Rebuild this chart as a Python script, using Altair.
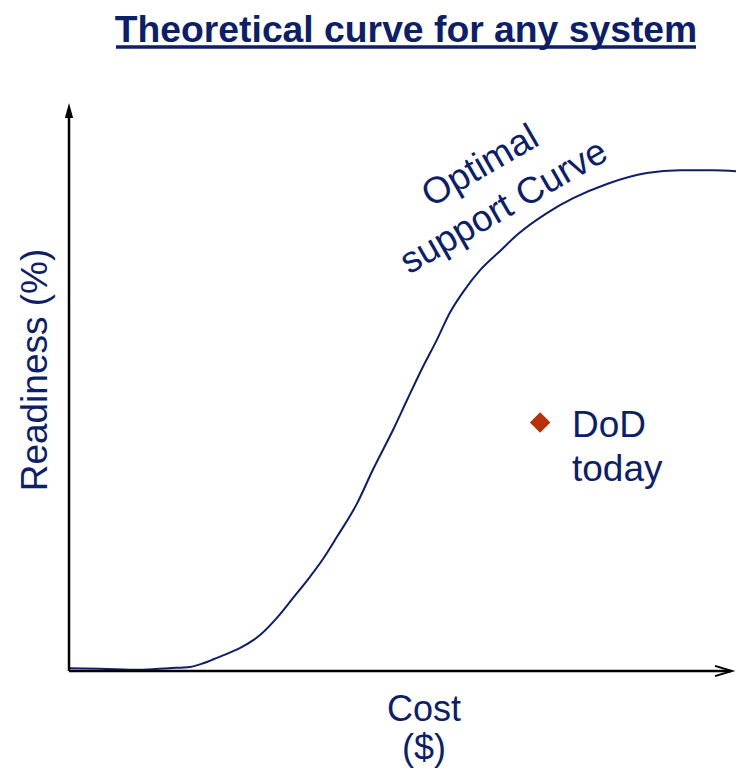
import altair as alt
import pandas as pd

# Optimal support curve (cost %, readiness %)
cost = [0.0, 4.6, 10.5, 14.8, 17.9, 20.0, 21.5, 23.4, 25.3, 27.3, 28.3, 30.8,
        33.2, 35.7, 37.5, 39.7, 42.7, 45.0, 48.0, 50.1, 52.4, 54.5, 56.4, 58.4,
        60.9, 63.9, 66.4, 70.8, 74.7, 79.7, 85.6, 90.5, 95.4, 100.0]
readiness = [0.5, 0.4, 0.2, 0.5, 0.7, 1.4, 2.1, 3.0, 4.0, 5.4, 6.3, 9.3,
             12.8, 16.5, 19.4, 23.5, 29.4, 35.2, 42.2, 47.5, 53.2, 58.0, 62.7,
             66.4, 70.2, 73.6, 76.4, 80.2, 82.8, 85.3, 87.2, 87.7, 87.7, 87.4]

# DoD today point
dod_cost = [69.8]
dod_readiness = [43.5]

title_text = "Theoretical curve for any system"
curve_label = ["Optimal", "support Curve"]
dod_label = ["DoD", "today"]
x_title = ["Cost", "($)"]
y_title = "Readiness (%)"

NAVY = "#0E1F68"
RED = "#B5300B"
FONT = "Liberation Sans"

PX_PER_UNIT = 6.75
W, H = 667, 571

curve_df = pd.DataFrame({"cost": cost, "readiness": readiness})
dod_df = pd.DataFrame({"cost": dod_cost, "readiness": dod_readiness})
one = pd.DataFrame({"k": [0]})

xs = alt.Scale(domain=[0, W / PX_PER_UNIT], nice=False, zero=False)
ys = alt.Scale(domain=[0, 100], nice=False, zero=False)

curve = alt.Chart(curve_df).mark_line(
    color=NAVY, strokeWidth=2, interpolate="monotone", clip=True
).encode(
    x=alt.X("cost:Q", scale=xs, axis=None),
    y=alt.Y("readiness:Q", scale=ys, axis=None),
)

dod = alt.Chart(dod_df).mark_point(
    shape="diamond", filled=True, color=RED, size=420, opacity=1
).encode(
    x=alt.X("cost:Q", scale=xs, axis=None),
    y=alt.Y("readiness:Q", scale=ys, axis=None),
)

base = alt.Chart(one)

y_axis = base.mark_rule(color="black", strokeWidth=2.5).encode(
    x=alt.value(0), y=alt.value(H), y2=alt.value(12)
)
x_axis = base.mark_rule(color="black", strokeWidth=2.5).encode(
    x=alt.value(0), x2=alt.value(662), y=alt.value(H)
)
y_head = base.mark_point(
    shape="M0,-1L0.55,1L-0.55,1Z", filled=True, color="black", opacity=1
).encode(x=alt.value(0), y=alt.value(10.5), size=alt.value(225))
x_head = base.mark_point(
    shape="M-1,-0.6L1,0L-1,0.6", filled=False, color="black", strokeWidth=2,
    opacity=1
).encode(x=alt.value(654.5), y=alt.value(H), size=alt.value(289))

title = base.mark_text(
    text=title_text, font=FONT, fontSize=37.3, fontWeight="bold", color=NAVY,
    align="center", baseline="alphabetic"
).encode(x=alt.value(337), y=alt.value(-58))
underline = base.mark_rule(color=NAVY, strokeWidth=3.5).encode(
    x=alt.value(47), x2=alt.value(627), y=alt.value(-53)
)

curve_txt = base.mark_text(
    text=curve_label, font=FONT, fontSize=37, color=NAVY, align="center",
    baseline="alphabetic", angle=330, lineHeight=47
).encode(x=alt.value(417), y=alt.value(76))

dod_txt = base.mark_text(
    text=dod_label, font=FONT, fontSize=37, color=NAVY, align="left",
    baseline="alphabetic", lineHeight=44
).encode(x=alt.value(503), y=alt.value(337))

x_txt = base.mark_text(
    text=x_title, font=FONT, fontSize=36, color=NAVY, align="center",
    baseline="alphabetic", lineHeight=39
).encode(x=alt.value(355), y=alt.value(621))

y_txt = base.mark_text(
    text=y_title, font=FONT, fontSize=37, color=NAVY, align="center",
    baseline="alphabetic", angle=270
).encode(x=alt.value(-22), y=alt.value(270))

chart = alt.layer(
    curve, dod, y_axis, x_axis, y_head, x_head, title, underline,
    curve_txt, dod_txt, x_txt, y_txt
).properties(
    width=W, height=H,
    background="white",
    autosize=alt.AutoSizeParams(type="none"),
    padding={"left": 61, "top": 92, "right": 0, "bottom": 98},
).configure_view(stroke=None)

chart.save("out.html", embed_options={"renderer": "svg", "actions": False})
